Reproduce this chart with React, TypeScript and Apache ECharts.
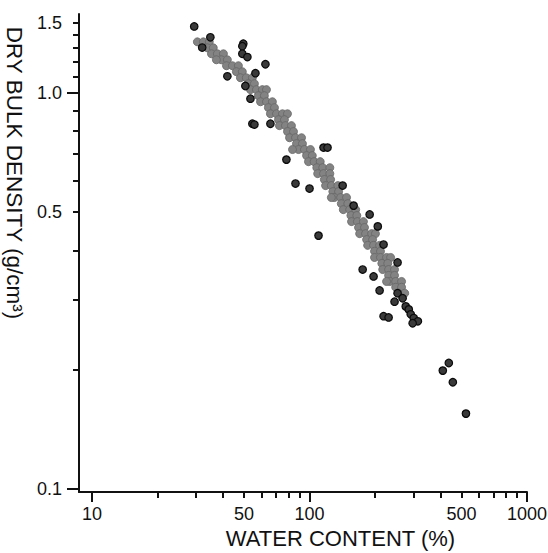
import React, { useEffect, useRef } from 'react';
import * as echarts from 'echarts';

// Grey (dense band) samples: water content (%) and dry bulk density (g/cm3)
const greyWater = [
  30.5, 32.5, 34.6,
  33.9, 36.1,
  35.4, 37.7, 40.2,
  39.3, 41.9, 37.3,
  41.5, 44.2, 47.1,
  46.1, 49.1,
  48.1, 51.2, 54.6,
  52.3, 55.8,
  53.5, 57.0, 60.7, 63.4,
  58.2, 62.0,
  59.5, 63.4, 67.5,
  64.7, 69.0,
  66.1, 70.5, 75.1, 79.2,
  72.0, 76.7,
  72.7, 77.5, 82.6,
  79.2, 84.4,
  80.9, 86.2, 91.9,
  87.1, 92.8,
  89.0, 94.8, 101, 83.5,
  96.9, 103,
  98.9, 105, 112,
  108, 115, 124,
  109, 116, 124,
  117, 125,
  118.5, 126, 135,
  128, 136,
  130, 139, 148, 126,
  140, 150,
  143, 153, 163,
  155, 165,
  156, 166, 177,
  168, 179,
  170, 181, 193, 201,
  183, 195,
  185, 197, 210,
  199, 212,
  199, 212, 226, 236,
  215, 229,
  217, 231, 246,
  231, 246,
  234, 249, 265, 226,
  249, 265,
  257, 274,
];
const greyDensity = [
  1.344, 1.344, 1.344,
  1.298, 1.298,
  1.254, 1.254, 1.254,
  1.211, 1.211, 1.211,
  1.170, 1.170, 1.170,
  1.130, 1.130,
  1.091, 1.091, 1.091,
  1.054, 1.054,
  1.018, 1.018, 1.018, 1.018,
  0.983, 0.983,
  0.949, 0.949, 0.949,
  0.917, 0.917,
  0.885, 0.885, 0.885, 0.885,
  0.855, 0.855,
  0.826, 0.826, 0.826,
  0.798, 0.798,
  0.770, 0.770, 0.770,
  0.744, 0.744,
  0.719, 0.719, 0.719, 0.719,
  0.694, 0.694,
  0.670, 0.670, 0.670,
  0.647, 0.647, 0.647,
  0.625, 0.625, 0.625,
  0.604, 0.604,
  0.583, 0.583, 0.583,
  0.563, 0.563,
  0.544, 0.544, 0.544, 0.544,
  0.525, 0.525,
  0.507, 0.507, 0.507,
  0.490, 0.490,
  0.473, 0.473, 0.473,
  0.457, 0.457,
  0.441, 0.441, 0.441, 0.441,
  0.426, 0.426,
  0.412, 0.412, 0.412,
  0.398, 0.398,
  0.384, 0.384, 0.384, 0.384,
  0.371, 0.371,
  0.358, 0.358, 0.358,
  0.346, 0.346,
  0.334, 0.334, 0.334, 0.334,
  0.323, 0.323,
  0.312, 0.312,
];

// Dark samples
const darkWater = [
  29.5, 35.0, 32.1, 49.6, 49.1, 49.1, 51.8, 62.7, 41.9, 56.4, 50.7, 53.5,
  54.6, 55.8, 66.1, 116, 121, 78.3, 86.2, 100, 142, 159.5, 189, 206, 110,
  219, 254, 175.5, 197, 210, 246, 219, 231, 254, 268, 277, 286, 292, 301.5,
  315, 298, 437, 410, 456, 524,
];
const darkDensity = [
  1.47, 1.38, 1.30, 1.33, 1.31, 1.254, 1.23, 1.18, 1.10, 1.12, 1.04, 0.966,
  0.835, 0.831, 0.835, 0.727, 0.727, 0.678, 0.590, 0.573, 0.583, 0.519, 0.493, 0.460, 0.436,
  0.414, 0.373, 0.358, 0.344, 0.317, 0.297, 0.273, 0.271, 0.312, 0.303, 0.289, 0.284, 0.276, 0.270,
  0.265, 0.262, 0.208, 0.199, 0.186, 0.155,
];

const xMajorTicks = [10, 100, 1000];
const xMinorTicks = [20, 30, 40, 50, 60, 70, 80, 90, 200, 300, 400, 500, 600, 700, 800, 900];
const xLabels = [10, 50, 100, 500, 1000];
const yMajorTicks = [0.1, 1.0];
const yMinorTicks = [0.2, 0.3, 0.4, 0.5, 0.6, 0.7, 0.8, 0.9, 1.1, 1.2, 1.3, 1.4, 1.5];
const yLabels = [0.1, 0.5, 1.0, 1.5];

const FONT = '"Liberation Sans", Arial, Helvetica, sans-serif';
const INK = '#111';
const X_MIN = 8.71;
const X_MAX = 1000;
const Y_MIN = 0.0983;
const Y_MAX = 1.58;

export default function App() {
  const ref = useRef<HTMLDivElement>(null);
  useEffect(() => {
    if (!ref.current) return;
    const chart = echarts.init(ref.current, null, { renderer: 'svg' });
    const greyData = greyWater.map((w, i) => [w, greyDensity[i]]);
    const darkData = darkWater.map((w, i) => [w, darkDensity[i]]);
    const tickLine = { color: INK, width: 2 };
    chart.setOption({
      animation: false,
      backgroundColor: '#ffffff',
      grid: { left: 79, right: 21, top: 14, bottom: 61, containLabel: false, outerBoundsMode: 'none' },
      xAxis: [
        {
          type: 'log', min: X_MIN, max: X_MAX, position: 'bottom',
          name: 'WATER CONTENT (%)', nameLocation: 'middle', nameGap: 32,
          nameTextStyle: { fontSize: 22, fontFamily: FONT, color: INK, padding: [0, 0, 0, 75] },
          axisLine: { show: true, lineStyle: { color: INK, width: 2 } },
          axisTick: { show: true, inside: false, length: 10, lineStyle: tickLine, customValues: xMajorTicks },
          axisLabel: {
            show: true, customValues: xLabels, margin: 13, fontSize: 18, fontFamily: FONT, color: INK,
            formatter: (v: number) => String(Math.round(v)),
          },
          splitLine: { show: false },
        },
        {
          type: 'log', min: X_MIN, max: X_MAX, position: 'bottom',
          axisLine: { show: false },
          axisTick: { show: true, inside: false, length: 6, lineStyle: tickLine, customValues: xMinorTicks },
          axisLabel: { show: false },
          splitLine: { show: false },
        },
      ],
      yAxis: [
        {
          type: 'log', min: Y_MIN, max: Y_MAX, position: 'left',
          name: 'DRY BULK DENSITY (g/cm³)', nameLocation: 'middle', nameGap: 44, nameRotate: -90,
          nameTextStyle: { fontSize: 22.5, fontFamily: FONT, color: INK, padding: [0, 160, 0, 0] },
          axisLine: { show: true, lineStyle: { color: INK, width: 2 } },
          axisTick: { show: true, inside: false, length: 12, lineStyle: tickLine, customValues: yMajorTicks },
          axisLabel: {
            show: true, customValues: yLabels, margin: 17, fontSize: 18, fontFamily: FONT, color: INK,
            formatter: (v: number) => v.toFixed(1),
          },
          splitLine: { show: false },
        },
        {
          type: 'log', min: Y_MIN, max: Y_MAX, position: 'left',
          axisLine: { show: false },
          axisTick: { show: true, inside: false, length: 6, lineStyle: tickLine, customValues: yMinorTicks },
          axisLabel: { show: false },
          splitLine: { show: false },
        },
      ],
      series: [
        {
          type: 'scatter', xAxisIndex: 0, yAxisIndex: 0, data: greyData, symbolSize: 8,
          itemStyle: { color: '#838383', borderColor: '#666', borderWidth: 0.8, opacity: 1 },
          silent: true,
        },
        {
          type: 'scatter', xAxisIndex: 0, yAxisIndex: 0, data: darkData, symbolSize: 7.5,
          itemStyle: { color: '#3a3a3a', borderColor: '#0a0a0a', borderWidth: 1.2, opacity: 1 },
          silent: true,
        },
      ],
    });
    return () => chart.dispose();
  }, []);
  return (
    <div
      ref={ref}
      style={{ position: 'fixed', left: 0, top: 0, width: 548, height: 553, background: '#fff' }}
    />
  );
}
